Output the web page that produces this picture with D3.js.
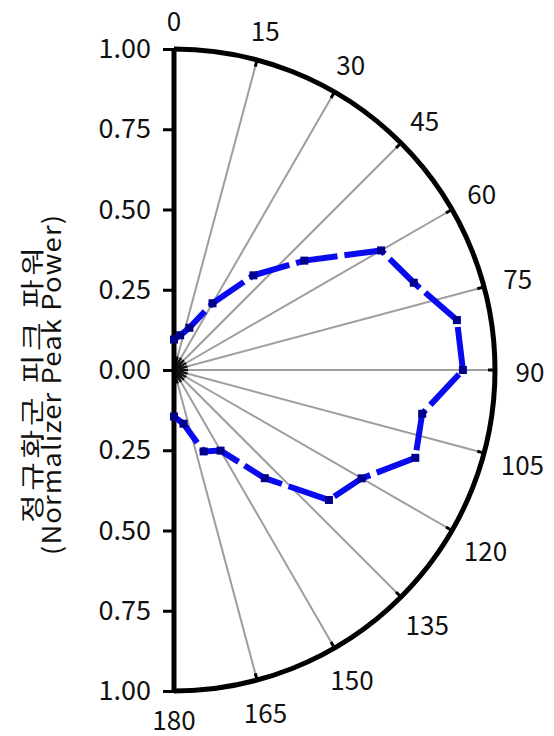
<!DOCTYPE html>
<html>
<head>
<meta charset="utf-8">
<script src="https://cdn.jsdelivr.net/npm/d3@7"></script>
<style>
  html, body { margin: 0; padding: 0; background: #fff; }
  svg text { font-family: "Noto Sans CJK KR", "Noto Sans", sans-serif; fill: #111; }
</style>
</head>
<body>
<svg id="chart" width="554" height="736"></svg>
<script>
// Measurement angles (degrees) and normalized peak power at each angle
const anglesDeg = [0, 10, 20, 30, 40, 50, 60, 70, 80, 90, 100, 110, 120, 130, 140, 150, 160, 170, 180];
const peakPower = [0.095, 0.11, 0.14, 0.24, 0.385, 0.53, 0.745, 0.795, 0.895, 0.90, 0.785, 0.80, 0.675, 0.63, 0.44, 0.29, 0.27, 0.17, 0.145];

// Angular grid (every 15 degrees) and radial axis labels
const angleTicks = [0, 15, 30, 45, 60, 75, 90, 105, 120, 135, 150, 165, 180];
const radialTickValues = [1, 0.75, 0.5, 0.25, 0, -0.25, -0.5, -0.75, -1];
const radialTickLabels = ["1.00", "0.75", "0.50", "0.25", "0.00", "0.25", "0.50", "0.75", "1.00"];

const titleLines = ["정규화군 피크 파워", "(Normalizer Peak Power)"];

const svg = d3.select("#chart");
const cx = 174, cy = 370, R = 321;

const r = d3.scaleLinear().domain([0, 1]).range([0, R]);
const y = d3.scaleLinear().domain([-1, 1]).range([cy + R, cy - R]);
const toRad = d => d * Math.PI / 180;
const px = (deg, rad) => cx + rad * Math.sin(toRad(deg));
const py = (deg, rad) => cy - rad * Math.cos(toRad(deg));

const g = svg.append("g");

// spokes
const spokes = angleTicks.filter(a => a > 0 && a < 180);
g.selectAll("line.spoke").data(spokes).join("line")
  .attr("class", "spoke")
  .attr("x1", cx).attr("y1", cy)
  .attr("x2", a => px(a, r(1))).attr("y2", a => py(a, r(1)))
  .attr("stroke", "#9e9e9e").attr("stroke-width", 2);

// darker hub where the spokes converge
g.selectAll("line.hub").data(spokes).join("line")
  .attr("class", "hub")
  .attr("x1", cx).attr("y1", cy)
  .attr("x2", a => px(a, 14)).attr("y2", a => py(a, 14))
  .attr("stroke", "#111").attr("stroke-width", 2.5);

// outer semicircle
const arcPath = d3.path();
arcPath.arc(cx, cy, r(1), -Math.PI / 2, Math.PI / 2);
g.append("path").attr("d", arcPath.toString())
  .attr("fill", "none").attr("stroke", "#000").attr("stroke-width", 5);

// inward ticks on the arc
g.selectAll("line.atick").data(spokes).join("line")
  .attr("class", "atick")
  .attr("x1", a => px(a, r(1) - 7)).attr("y1", a => py(a, r(1) - 7))
  .attr("x2", a => px(a, r(1))).attr("y2", a => py(a, r(1)))
  .attr("stroke", "#000").attr("stroke-width", 3);

// vertical radial axis
const axis = d3.axisLeft(y)
  .tickValues(radialTickValues)
  .tickFormat((d, i) => radialTickLabels[i])
  .tickSize(11).tickPadding(12);
const ax = g.append("g").attr("transform", `translate(${cx},0)`).call(axis);
ax.select(".domain").attr("stroke", "#000").attr("stroke-width", 5)
  .attr("d", `M0,${y(1)}V${y(-1)}`);
ax.selectAll(".tick line").attr("stroke", "#000").attr("stroke-width", 3);
ax.selectAll(".tick text")
  .attr("font-size", 27).attr("fill", "#111")
  .style("font-family", '"Noto Sans CJK KR", "Noto Sans", sans-serif');

// angle labels
const labelR = a => r(1) + 30 + (String(a).length - 1) * 5 * Math.abs(Math.sin(toRad(a)));
g.selectAll("text.alabel").data(angleTicks).join("text")
  .attr("class", "alabel")
  .attr("x", a => px(a, labelR(a)))
  .attr("y", a => Math.min(py(a, labelR(a)), 718))
  .attr("text-anchor", "middle")
  .attr("dominant-baseline", "central")
  .attr("font-size", 26)
  .text(a => a);

// data curve
const line = d3.lineRadial()
  .angle((d, i) => toRad(anglesDeg[i]))
  .radius(d => r(d));
const curve = g.append("g").attr("transform", `translate(${cx},${cy})`);
curve.append("path")
  .attr("d", line(peakPower))
  .attr("fill", "none")
  .attr("stroke", "#0a0aee")
  .attr("stroke-width", 6)
  .attr("stroke-dasharray", "42,7");
curve.selectAll("rect").data(peakPower).join("rect")
  .attr("x", (d, i) => r(d) * Math.sin(toRad(anglesDeg[i])) - 4)
  .attr("y", (d, i) => -r(d) * Math.cos(toRad(anglesDeg[i])) - 4)
  .attr("width", 8).attr("height", 8)
  .attr("fill", "#00008c");

// rotated axis title, two lines (glyphs widened along the reading direction)
const title = svg.append("g")
  .attr("transform", `translate(0,385) rotate(-90)`);
const kx = 1.3, ex = 1.1;
title.append("text")
  .attr("transform", `translate(0,41) scale(${kx},1)`)
  .attr("text-anchor", "middle")
  .attr("font-size", 24)
  .attr("textLength", 276 / kx).attr("lengthAdjust", "spacing")
  .text(titleLines[0]);
title.append("text")
  .attr("transform", `translate(0,61) scale(${ex},1)`)
  .attr("text-anchor", "middle")
  .attr("font-size", 25)
  .attr("textLength", 340 / ex).attr("lengthAdjust", "spacing")
  .text(titleLines[1]);
</script>
</body>
</html>
